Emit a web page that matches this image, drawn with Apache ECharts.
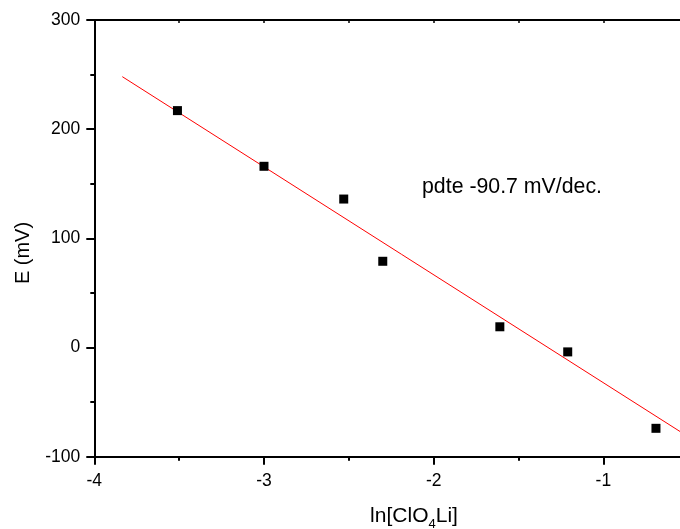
<!DOCTYPE html>
<html>
<head>
<meta charset="utf-8">
<script src="https://cdn.jsdelivr.net/npm/echarts@6/dist/echarts.min.js"></script>
<style>
html,body{margin:0;padding:0;background:#fff;}
#chart{width:680px;height:529px;}
</style>
</head>
<body>
<div id="chart"></div>
<script>
// Data
const xValues = [-3.51, -3.00, -2.53, -2.30, -1.61, -1.21, -0.69];
const eValues = [217, 166, 136, 79, 19, -4, -74];
const fitX = [-3.835, -0.5];
const fitE = [248.1, -81.7];
const xTickLabels = ['-4', '-3', '-2', '-1'];
const yTickLabels = ['-100', '0', '100', '200', '300'];
const annotation = 'pdte -90.7 mV/dec.';

const FONT = '"Liberation Sans", Arial, sans-serif';
const chart = echarts.init(document.getElementById('chart'), null, {renderer: 'canvas'});

const points = xValues.map((x, i) => [x, eValues[i]]);
const fitLine = fitX.map((x, i) => [x, fitE[i]]);

chart.setOption({
  animation: false,
  backgroundColor: '#fff',
  grid: {left: 94.3, top: 20, right: -8.2, bottom: 72.3, containLabel: false, outerBoundsMode: 'none'},
  xAxis: [{
    type: 'value', position: 'bottom', min: -4, max: -0.5, interval: 1,
    axisLine: {show: true, onZero: false, lineStyle: {color: '#000', width: 2}},
    axisTick: {show: true, inside: false, length: 8, lineStyle: {color: '#000', width: 2}},
    minorTick: {show: true, splitNumber: 2, length: 4, lineStyle: {color: '#000', width: 2}},
    splitLine: {show: false},
    axisLabel: {
      margin: 15, color: '#000', fontSize: 17.5, fontFamily: FONT,
      formatter: v => xTickLabels.includes(String(v)) ? String(v) : ''
    }
  }, {
    type: 'value', position: 'top', min: -4, max: -0.5, interval: 1,
    axisLine: {show: true, onZero: false, lineStyle: {color: '#000', width: 2}},
    axisTick: {show: true, inside: true, length: 3, lineStyle: {color: '#000', width: 1.5}},
    minorTick: {show: true, splitNumber: 2, length: 3, lineStyle: {color: '#000', width: 1.5}},
    splitLine: {show: false},
    axisLabel: {show: false}
  }],
  yAxis: [{
    type: 'value', min: -100, max: 300, interval: 100,
    axisLine: {show: true, onZero: false, lineStyle: {color: '#000', width: 2}},
    axisTick: {show: true, inside: false, length: 8, lineStyle: {color: '#000', width: 2}},
    minorTick: {show: true, splitNumber: 2, length: 4, lineStyle: {color: '#000', width: 2}},
    splitLine: {show: false},
    axisLabel: {
      margin: 14, color: '#000', fontSize: 17.5, fontFamily: FONT,
      formatter: v => yTickLabels.includes(String(v)) ? String(v) : ''
    }
  }],
  series: [{
    type: 'line', data: fitLine, xAxisIndex: 0, yAxisIndex: 0,
    showSymbol: false, symbol: 'none', clip: true,
    lineStyle: {color: '#ff0000', width: 1}, z: 2
  }, {
    type: 'scatter', data: points, xAxisIndex: 0, yAxisIndex: 0,
    symbol: 'rect', symbolSize: 9,
    itemStyle: {color: '#000', opacity: 1}, z: 3
  }],
  graphic: [{
    type: 'text', x: 512, y: 187,
    style: {text: annotation, font: '21.3px ' + FONT, fill: '#000', textAlign: 'center', textVerticalAlign: 'middle'}
  }, {
    type: 'text', x: 23, y: 253, rotation: Math.PI / 2,
    style: {text: 'E (mV)', font: '20px ' + FONT, fill: '#000', textAlign: 'center', textVerticalAlign: 'middle'}
  }, {
    type: 'text', x: 414, y: 516,
    style: {
      text: '{a|ln[ClO}{s|4}{a|Li]}',
      textAlign: 'center', textVerticalAlign: 'middle',
      rich: {
        a: {fontSize: 21, fontFamily: FONT, fill: '#000', color: '#000', lineHeight: 30, verticalAlign: 'middle'},
        s: {fontSize: 13, fontFamily: FONT, fill: '#000', color: '#000', lineHeight: 30, verticalAlign: 'bottom'}
      }
    }
  }]
});
</script>
</body>
</html>
